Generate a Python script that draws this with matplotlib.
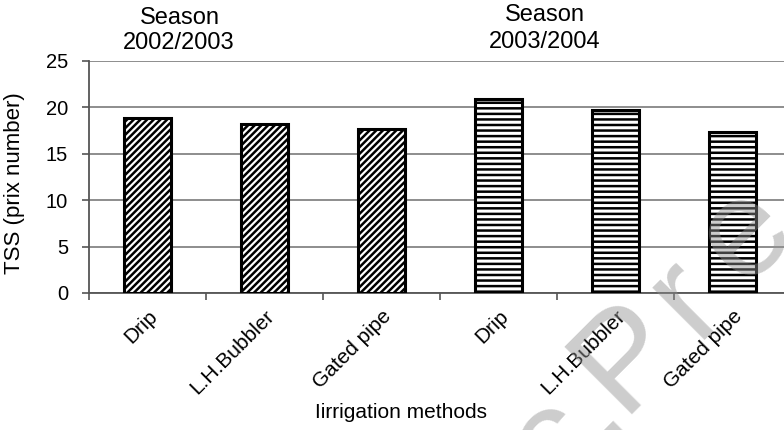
import matplotlib
matplotlib.use("Agg")
import matplotlib.pyplot as plt
import numpy as np

plt.rcParams['font.family'] = ['Liberation Sans', 'DejaVu Sans']
plt.rcParams['hatch.linewidth'] = 1.8

categories = ["Drip", "L.H.Bubbler", "Gated pipe", "Drip", "L.H.Bubbler", "Gated pipe"]
season1_values = [18.9, 18.2, 17.7]
season2_values = [20.9, 19.7, 17.4]
season_titles = [("Season", "2002/2003"), ("Season", "2003/2004")]
yticks = [0, 5, 10, 15, 20, 25]
watermark_parts = ["c.", "P", "r", "e"]

W, H = 784, 430
fig = plt.figure(figsize=(W/100, H/100), dpi=100)
ax = fig.add_axes([89/W, 1-293/H, (791-89)/W, (293-61)/H])

x = np.arange(len(categories))
values = season1_values + season2_values
hatches = ["/////"] * len(season1_values) + ["---"] * len(season2_values)
for xi, v, h in zip(x, values, hatches):
    ax.bar(xi, v, width=0.41, facecolor="white", edgecolor="black",
           linewidth=2.2, hatch=h, zorder=3)

ax.set_xlim(-0.5, len(categories) - 0.5)
ax.set_ylim(0, 25)
ax.set_yticks(yticks)
ax.yaxis.grid(True, color="#7a7a7a", linewidth=1.2, zorder=0)
ax.set_axisbelow(True)

ax.set_xticks(x)
ax.set_xticklabels(categories, rotation=45, ha="right", rotation_mode="anchor", fontsize=15)
ax.tick_params(axis="x", length=0, pad=10)
ax.set_xticks(np.arange(-0.5, len(categories)), minor=True)
ax.tick_params(axis="x", which="minor", length=5, color="#555555", width=1.2)
ax.tick_params(axis="y", labelsize=14.5, length=5, color="#555555", width=1.2, pad=10)

for s in ["top", "right"]:
    ax.spines[s].set_visible(False)
for s in ["left", "bottom"]:
    ax.spines[s].set_color("#555555")
    ax.spines[s].set_linewidth(1.3)

fig.text(15/W, 1-183/H, "TSS (prix number)", rotation=90, ha="center", va="center", fontsize=16)
fig.text(401/W, 1-412/H, "Iirrigation methods", ha="center", va="center", fontsize=15)

fig.text(180/W, 1-18/H, season_titles[0][0], ha="center", va="center", fontsize=17)
fig.text(179/W, 1-43/H, season_titles[0][1], ha="center", va="center", fontsize=17)
fig.text(545/W, 1-15/H, season_titles[1][0], ha="center", va="center", fontsize=17)
fig.text(545/W, 1-42/H, season_titles[1][1], ha="center", va="center", fontsize=17)

# semi-transparent grey watermark lying over the chart
wm_origin = [(555, 494), (620, 414), (696, 340), (743, 287)]
for part, (px, py) in zip(watermark_parts, wm_origin):
    fig.text(px/W, 1-py/H, part, rotation=45, rotation_mode="anchor",
             ha="left", va="baseline", fontsize=100, color="#909090",
             alpha=0.45, zorder=20)

fig.savefig("out.png", dpi=100, facecolor="white")
